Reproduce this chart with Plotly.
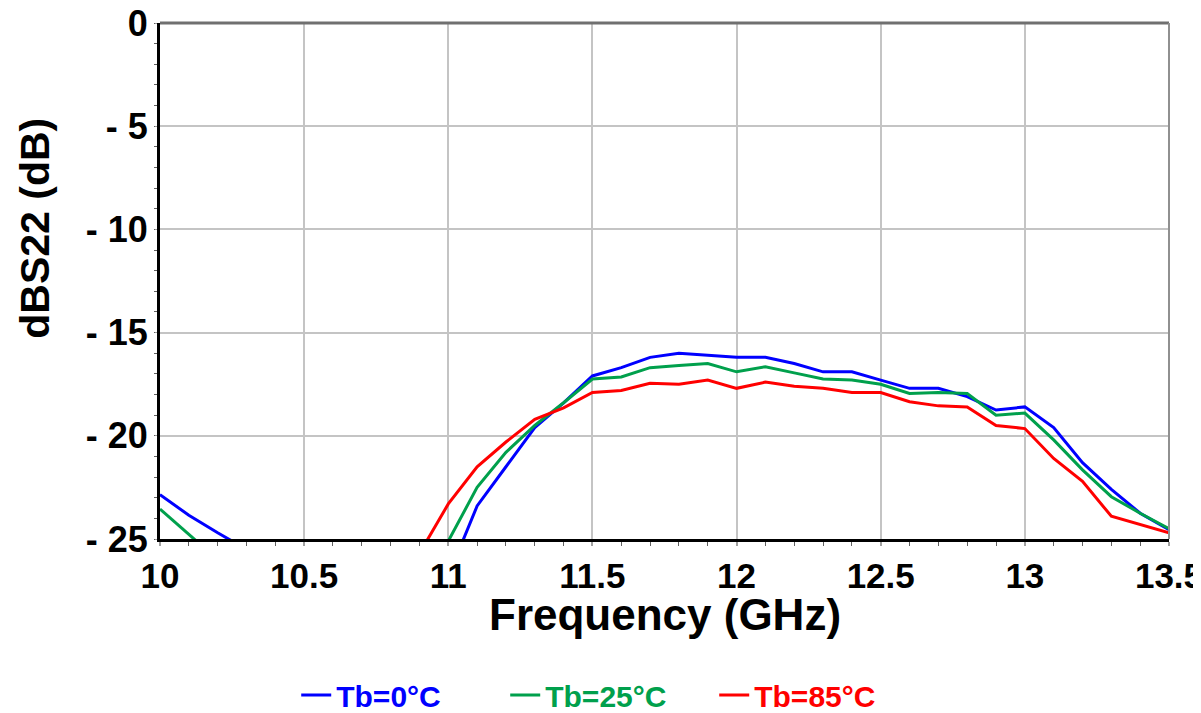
import plotly.graph_objects as go

# frequency points (GHz)
freq = [10.0, 10.1, 10.2, 10.3, 10.4, 10.5, 10.6, 10.7, 10.8, 10.9,
        11.0, 11.1, 11.2, 11.3, 11.4, 11.5, 11.6, 11.7, 11.8, 11.9,
        12.0, 12.1, 12.2, 12.3, 12.4, 12.5, 12.6, 12.7, 12.8, 12.9,
        13.0, 13.1, 13.2, 13.3, 13.4, 13.5]

# dBS22 (dB), None = below the visible range
s22_0c = [-22.85, -23.85, -24.7, -25.5, None, None, None, None, None, None,
          -26.8, -23.4, -21.5, -19.6, -18.4, -17.1, -16.7, -16.2, -16.0, -16.1,
          -16.2, -16.2, -16.5, -16.9, -16.9, -17.3, -17.7, -17.7, -18.1, -18.75,
          -18.6, -19.6, -21.3, -22.6, -23.75, -24.55]
s22_25c = [-23.55, -24.75, -26.0, None, None, None, None, None, None, None,
           -25.1, -22.5, -20.8, -19.5, -18.4, -17.25, -17.15, -16.7, -16.6, -16.5,
           -16.9, -16.65, -16.95, -17.25, -17.3, -17.5, -17.95, -17.9, -17.95, -19.0,
           -18.9, -20.2, -21.65, -22.95, -23.75, -24.5]
s22_85c = [None, None, None, None, None, None, None, None, None, -25.7,
           -23.3, -21.5, -20.3, -19.2, -18.65, -17.9, -17.8, -17.45, -17.5, -17.3,
           -17.7, -17.4, -17.6, -17.7, -17.9, -17.9, -18.35, -18.55, -18.6, -19.5,
           -19.65, -21.1, -22.2, -23.9, -24.3, -24.7]

series = [
    ("Tb=0°C", s22_0c, "#0000ff"),
    ("Tb=25°C", s22_25c, "#00a04c"),
    ("Tb=85°C", s22_85c, "#ff0000"),
]

x_ticks = [10, 10.5, 11, 11.5, 12, 12.5, 13, 13.5]
x_labels = ["10", "10.5", "11", "11.5", "12", "12.5", "13", "13.5"]
y_ticks = [0, -5, -10, -15, -20, -25]
y_labels = ["0", "- 5", "- 10", "- 15", "- 20", "- 25"]

FONT = "Arial, Liberation Sans, sans-serif"

fig = go.Figure()
for name, vals, col in series:
    fig.add_trace(go.Scatter(
        x=freq, y=vals, mode="lines",
        name=f"<span style='color:{col}'>{name}</span>",
        line=dict(color=col, width=3),
        connectgaps=False,
    ))

# page body has an 8px margin, so the figure is a bit smaller than the window
fig.update_layout(
    width=1193, height=705,
    margin=dict(l=152, r=32, t=15, b=174, autoexpand=False),
    paper_bgcolor="white", plot_bgcolor="white",
    font=dict(family=FONT, color="black"),
    showlegend=True,
    legend=dict(
        orientation="h", x=0.135, xanchor="left", y=-0.252, yanchor="top",
        font=dict(size=30, family=FONT, weight="bold"),
        entrywidth=164, entrywidthmode="pixels",
        bgcolor="rgba(0,0,0,0)",
    ),
)

fig.update_xaxes(
    range=[10, 13.5], automargin=False,
    tickvals=x_ticks, ticktext=x_labels,
    tickfont=dict(size=35, family=FONT, weight="bold"),
    ticks="outside", ticklen=4, tickcolor="#a0a0a0", tickwidth=2,
    ticklabeloverflow="allow",
    minor=dict(dtick=0.1, ticks="outside", ticklen=4, tickcolor="#606060", tickwidth=1, showgrid=False),
    showgrid=True, gridcolor="#c4c4c4", gridwidth=2,
    showline=True, linecolor="black", linewidth=3,
    zeroline=False,
)
fig.update_yaxes(
    range=[-25, 0], automargin=False,
    tickvals=y_ticks, ticktext=y_labels,
    tickfont=dict(size=36, family=FONT, weight="bold"),
    ticks="outside", ticklen=2, tickcolor="#a0a0a0",
    ticklabeloverflow="allow",
    minor=dict(dtick=1, ticks="outside", ticklen=3, tickcolor="#606060", tickwidth=1, showgrid=False),
    showgrid=True, gridcolor="#c4c4c4", gridwidth=2,
    showline=True, linecolor="black", linewidth=3,
    zeroline=False,
)

# axis titles as annotations so they sit where the original has them
fig.add_annotation(
    text="Frequency (GHz)", xref="paper", yref="paper", x=0.5, y=-0.147,
    xanchor="center", yanchor="middle", showarrow=False,
    font=dict(size=44, family=FONT, weight="bold", color="black"),
)
fig.add_annotation(
    text="dBS22 (dB)", xref="paper", yref="paper", x=-0.124, y=0.603,
    xanchor="center", yanchor="middle", textangle=-90, showarrow=False,
    font=dict(size=41, family=FONT, weight="bold", color="black"),
)

# gray frame on top and right
fig.add_shape(type="line", xref="paper", yref="paper", x0=0, x1=1, y0=1, y1=1,
              line=dict(color="#707070", width=3))
fig.add_shape(type="line", xref="paper", yref="paper", x0=1, x1=1, y0=0, y1=1,
              line=dict(color="#909090", width=2))

fig.write_html("out.html")
